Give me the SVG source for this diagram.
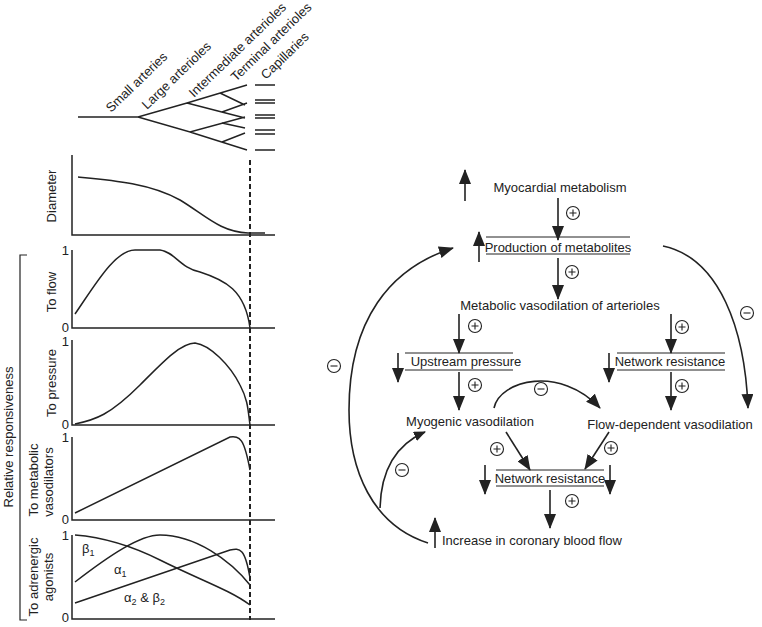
<svg xmlns="http://www.w3.org/2000/svg" width="762" height="627" viewBox="0 0 762 627">
<style>
text{font-family:"Liberation Sans",Arial,sans-serif;font-size:13px;fill:#222}
.s{font-size:12px}
.v{font-size:13px}
.ln{stroke:#222;stroke-width:1.6;fill:none}
.ax{stroke:#222;stroke-width:1.5;fill:none}
.c{stroke:#222;stroke-width:1.1;fill:#fff}
</style>
<defs>
<marker id="ah" markerUnits="userSpaceOnUse" markerWidth="16" markerHeight="12" refX="14" refY="6" orient="auto"><path d="M0,0L15,6L0,12z" fill="#222"/></marker>
<marker id="as" markerUnits="userSpaceOnUse" markerWidth="12" markerHeight="10" refX="11" refY="5" orient="auto"><path d="M0,0L12,5L0,10z" fill="#222"/></marker>
<symbol id="plus" overflow="visible"><circle r="6.5" class="c"/><path d="M-3.5,0H3.5M0,-3.5V3.5" stroke="#222" stroke-width="1.1"/></symbol>
<symbol id="minus" overflow="visible"><circle r="6.5" class="c"/><path d="M-3.5,0H3.5" stroke="#222" stroke-width="1.1"/></symbol>
</defs>
<g id="left-panel">
<g id="tree" class="ln" style="stroke-width:1.4">
<path d="M78,117H138L187,103L247,85M187,103L245,118M138,117L190,132L245,117M190,132L247,150M220,93L245,105M222,112L247,103M222,123L245,128M222,142L245,133"/>
<path d="M255,85H275M255,100H275M255,103H275M255,115H275M255,118H275M255,130H275M255,134H275M255,150H275"/>
</g>
<g id="vessel-labels" class="v">
<text transform="translate(111,113) rotate(-44)">Small arteries</text>
<text transform="translate(147,110) rotate(-44)">Large arterioles</text>
<text transform="translate(194,98) rotate(-44)">Intermediate arterioles</text>
<text transform="translate(236,82) rotate(-44)">Terminal arterioles</text>
<text transform="translate(266,80) rotate(-44)">Capillaries</text>
</g>
<g id="axes" class="ax">
<path d="M72,155V235H275"/>
<path d="M72,250V328H275"/>
<path d="M72,340V425H275"/>
<path d="M72,437V520H275"/>
<path d="M72,535V619H275"/>
</g>
<g id="ticks" class="s" text-anchor="end">
<text x="69" y="255">1</text><text x="69" y="332">0</text>
<text x="69" y="346">1</text><text x="69" y="429">0</text>
<text x="69" y="442">1</text><text x="69" y="524">0</text>
<text x="69" y="540">1</text><text x="69" y="622">0</text>
</g>
<g id="curves" class="ln" style="stroke-width:1.5">
<path d="M78,177C110,180 150,183 180,200C205,215 220,232 248,233H265"/>
<path d="M75,314C95,285 115,250 135,250H160C175,252 180,268 200,272C225,280 245,290 250,328"/>
<path d="M75,424C95,420 110,415 140,385C160,365 180,343 195,343C210,345 230,365 240,385C248,400 248,410 250,425"/>
<path d="M75,513L230,437C240,436 244,438 250,470"/>
<path d="M75,535C100,537 130,545 160,560C200,580 230,590 250,605"/>
<path d="M75,582C110,555 140,535 160,535C195,535 230,560 250,585"/>
<path d="M75,603L230,550C240,548 245,548 250,578"/>
</g>
<path id="dashed" d="M250,160V620" stroke="#222" stroke-width="2" stroke-dasharray="5,3"/>
<g id="curve-labels" class="s">
<text x="82" y="553">β<tspan font-size="9" dy="3">1</tspan></text>
<text x="114" y="574" font-family="Liberation Serif,serif">α<tspan font-size="9" dy="3">1</tspan></text>
<text x="124" y="602" font-family="Liberation Serif,serif">α<tspan font-size="9" dy="3">2</tspan><tspan dy="-3"> &amp; β</tspan><tspan font-size="9" dy="3">2</tspan></text>
</g>
<g id="ylabels" class="s" text-anchor="middle">
<text transform="translate(56,196) rotate(-90)">Diameter</text>
<text transform="translate(56,292) rotate(-90)">To flow</text>
<text transform="translate(56,383) rotate(-90)">To pressure</text>
<text transform="translate(38,480) rotate(-90)">To metabolic</text>
<text transform="translate(53,482) rotate(-90)">vasodilators</text>
<text transform="translate(38,577) rotate(-90)">To adrenergic</text>
<text transform="translate(53,577) rotate(-90)">agonists</text>
<text transform="translate(13,437) rotate(-90)">Relative responsiveness</text>
</g>
<path id="bracket" d="M27,255H20V620H27" class="ax" style="stroke-width:1.2"/>
</g>
<g id="nodes" text-anchor="middle">
<g id="n-myo"><text x="560" y="192">Myocardial metabolism</text></g>
<g id="n-prod"><text x="558" y="252">Production of metabolites</text><path d="M486,237H630M486,254H630" class="ax" style="stroke-width:1"/></g>
<g id="n-metvaso"><text x="560" y="310">Metabolic vasodilation of arterioles</text></g>
<g id="n-upstream"><text x="466" y="366">Upstream pressure</text><path d="M405,353H513M405,370H513" class="ax" style="stroke-width:1"/></g>
<g id="n-netres1"><text x="670" y="366">Network resistance</text><path d="M617,353H725M617,370H725" class="ax" style="stroke-width:1"/></g>
<g id="n-myogenic"><text x="470" y="426">Myogenic vasodilation</text></g>
<g id="n-flowdep"><text x="670" y="429">Flow-dependent vasodilation</text></g>
<g id="n-netres2"><text x="550" y="483">Network resistance</text><path d="M496,470H604M496,486H604" class="ax" style="stroke-width:1"/></g>
<g id="n-increase"><text x="442" y="545" text-anchor="start">Increase in coronary blood flow</text></g>
</g>
<g id="connectors" class="ln">
<path d="M465,201V170" marker-end="url(#ah)"/>
<path d="M479,262V232" marker-end="url(#ah)"/>
<path d="M398,353V382" marker-end="url(#ah)"/>
<path d="M609,353V382" marker-end="url(#ah)"/>
<path d="M485,465V494" marker-end="url(#ah)"/>
<path d="M610,465V494" marker-end="url(#ah)"/>
<path d="M435,548V518" marker-end="url(#ah)"/>
<path d="M558,198V240" marker-end="url(#ah)"/>
<path d="M558,258V299" marker-end="url(#ah)"/>
<path d="M459,314V353" marker-end="url(#ah)"/>
<path d="M671,314V353" marker-end="url(#ah)"/>
<path d="M459,372V410" marker-end="url(#ah)"/>
<path d="M671,372V410" marker-end="url(#ah)"/>
<path d="M550,490V528" marker-end="url(#ah)"/>
<path d="M506,432L530,470" marker-end="url(#ah)"/>
<path d="M609,432L585,469" marker-end="url(#ah)"/>
<path d="M494,408C500,380 560,365 600,408" marker-end="url(#ah)"/>
<path d="M663,246C720,258 745,330 748,408" marker-end="url(#ah)"/>
<path d="M428,543C372,525 349,470 349,410C349,320 390,268 453,248" marker-end="url(#ah)"/>
<path d="M380,508C381,470 395,445 425,432" marker-end="url(#as)"/>
</g>
<g id="signs">
<use href="#plus" x="573" y="213"/>
<use href="#plus" x="572" y="272"/>
<use href="#plus" x="475" y="326"/>
<use href="#plus" x="682" y="327"/>
<use href="#plus" x="475" y="385"/>
<use href="#plus" x="682" y="386"/>
<use href="#plus" x="497" y="449"/>
<use href="#plus" x="611" y="448"/>
<use href="#plus" x="572" y="501"/>
<use href="#minus" x="541" y="389"/>
<use href="#minus" x="747" y="313"/>
<use href="#minus" x="334" y="366"/>
<use href="#minus" x="402" y="470"/>
</g>
</svg>
